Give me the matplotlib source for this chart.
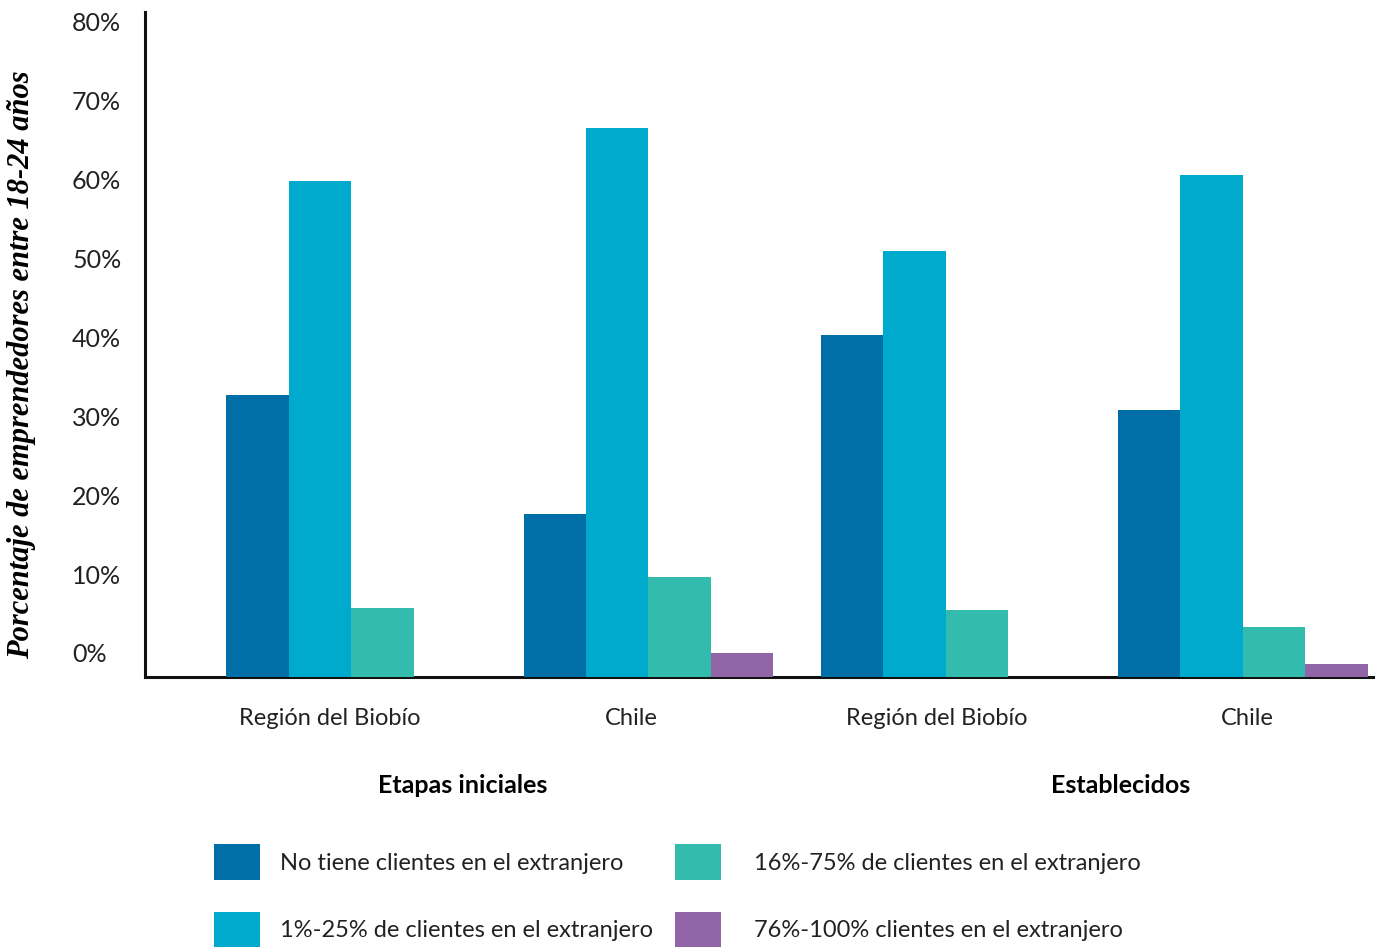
import numpy as np
import matplotlib
matplotlib.use("Agg")
import matplotlib.pyplot as plt
from matplotlib.patches import Patch
from matplotlib.transforms import ScaledTranslation

# data (percent)
groups = ["Región del Biobío", "Chile", "Región del Biobío", "Chile"]
stages = ["Etapas iniciales", "Establecidos"]
series = [
    "No tiene clientes en el extranjero",
    "1%-25% de clientes en el extranjero",
    "16%-75% de clientes en el extranjero",
    "76%-100% clientes en el extranjero",
]
sin_clientes = [35.7, 20.7, 43.3, 33.8]
de_1_a_25 = [62.9, 69.6, 54.0, 63.6]
de_16_a_75 = [8.7, 12.7, 8.5, 6.3]
de_76_a_100 = [0.0, 3.0, 0.0, 1.6]
yticks = [0, 10, 20, 30, 40, 50, 60, 70, 80]

colors = ["#006fa7", "#00aacd", "#33bbae", "#9264a8"]
values = [sin_clientes, de_1_a_25, de_16_a_75, de_76_a_100]

plt.rcParams["font.family"] = ["Lato", "DejaVu Sans"]

fig = plt.figure(figsize=(13.85, 9.47), dpi=100)
ax = fig.add_axes([145 / 1385, 1 - 677 / 947, (1373 - 145) / 1385, (677 - 12) / 947])

x = np.arange(len(groups))
w = 0.21
for i, (vals, c) in enumerate(zip(values, colors)):
    ax.bar(x + (i - 1.5) * w, vals, width=w, color=c, zorder=3, linewidth=0)

ax.set_xlim(-0.694, 3.438)
ax.set_ylim(0, 84.3)

ax.set_yticks(yticks)
ax.set_yticklabels(["%d%%" % v for v in yticks])
ax.tick_params(axis="y", length=0, pad=52.5, labelsize=18, labelcolor="#222222")
# the labels sit a bit above their gridline values in the original
shift = ScaledTranslation(0, 0.24, fig.dpi_scale_trans)
for lab in ax.get_yticklabels():
    lab.set_horizontalalignment("left")
    lab.set_transform(lab.get_transform() + shift)

ax.set_xticks(x)
ax.set_xticklabels(groups)
ax.tick_params(axis="x", length=0, pad=22, labelsize=17, labelcolor="#222222")
# group names are set slightly off-centre in the original
nudges = [-0.22, -0.17, -0.09, 0.04]
for lab, dx in zip(ax.get_xticklabels(), nudges):
    lab.set_transform(lab.get_transform() + ScaledTranslation(dx, 0, fig.dpi_scale_trans))

for side in ["top", "right"]:
    ax.spines[side].set_visible(False)
for side in ["left", "bottom"]:
    ax.spines[side].set_linewidth(2.2)
    ax.spines[side].set_color("#111111")

fig.text(22 / 1385, 1 - 365 / 947, "Porcentaje de emprendedores entre 18-24 años",
         rotation=90, ha="center", va="center", fontsize=22,
         family=["Liberation Serif", "DejaVu Serif"], style="italic", weight="bold")

fig.text(463 / 1385, 1 - 785 / 947, stages[0], ha="center", va="center",
         fontsize=18, weight="bold")
fig.text(1121 / 1385, 1 - 785 / 947, stages[1], ha="center", va="center",
         fontsize=18, weight="bold")

handles = [Patch(facecolor=c, edgecolor="none") for c in colors]
leg_style = dict(loc="upper left", frameon=False, fontsize=17, handlelength=1.95,
                 handleheight=2.0, labelspacing=1.32, borderpad=0,
                 borderaxespad=0, labelcolor="#222222")
fig.legend(handles[:2], series[:2], bbox_to_anchor=(214 / 1385, 1 - 844 / 947),
           handletextpad=0.85, **leg_style)
fig.legend(handles[2:], series[2:], bbox_to_anchor=(675 / 1385, 1 - 844 / 947),
           handletextpad=1.4, **leg_style)

fig.savefig("out.png", dpi=100)
